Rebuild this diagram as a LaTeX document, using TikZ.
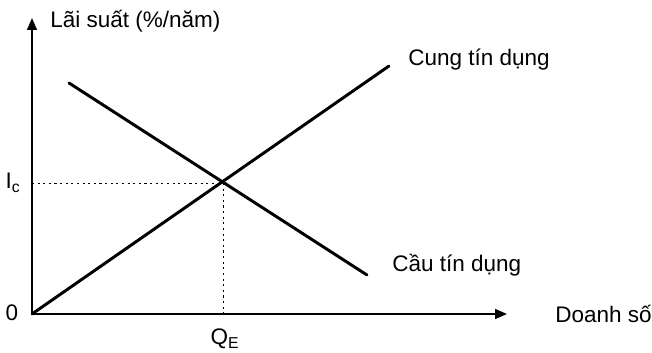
\documentclass[tikz,border=0pt]{standalone}
\usepackage{fontspec}
\setmainfont{Liberation Sans}
\usetikzlibrary{arrows.meta, positioning}

\begin{document}
\begin{tikzpicture}[
    x=0.025cm, y=-0.025cm,
    axis/.style={-{Triangle[length=8.5pt, width=7pt]}, line width=1.4pt},
    curve/.style={line width=2.1pt, line cap=round},
    guide/.style={dash pattern=on 1.5pt off 2.5pt, line width=0.7pt},
    lbl/.style={font=\fontsize{16}{19}\selectfont, inner sep=0pt}
]
    \useasboundingbox (0,0) rectangle (652,353);
    \coordinate (O) at (32,314);
    \coordinate (ytip) at (32,18);
    \coordinate (xtip) at (507,314);
    \coordinate (E) at (223,183);
    \coordinate (s1) at (389,66);
    \coordinate (d0) at (69,83);
    \coordinate (d1) at (367,275);
    \coordinate (yE) at (32,183);
    \coordinate (xE) at (223,314);

    % axes
    \draw[axis] (O) -- (ytip);
    \draw[axis] (O) -- (xtip);

    % supply and demand
    \draw[curve] (O) -- (s1);
    \draw[curve] (d0) -- (d1);

    % equilibrium
    \draw[guide] (yE) -- (E);
    \draw[guide] (E) -- (xE);

    \node[lbl, anchor=west] (ylab) at (50,21) {Lãi suất (\%/năm)};
    \node[lbl, right=1.2cm of xtip, anchor=west] (xlab) {Doanh số};
    \node[lbl, anchor=west] (cung) at (408,60) {Cung tín dụng};
    \node[lbl, anchor=west] (cau) at (392,265) {Cầu tín dụng};
    \node[lbl] (zero) at (12,313) {0};
    \node[lbl] (ic) at (13,183) {I\textsubscript{c}};
    \node[lbl] (qe) at (225,339) {Q\textsubscript{E}};
\end{tikzpicture}
\end{document}
